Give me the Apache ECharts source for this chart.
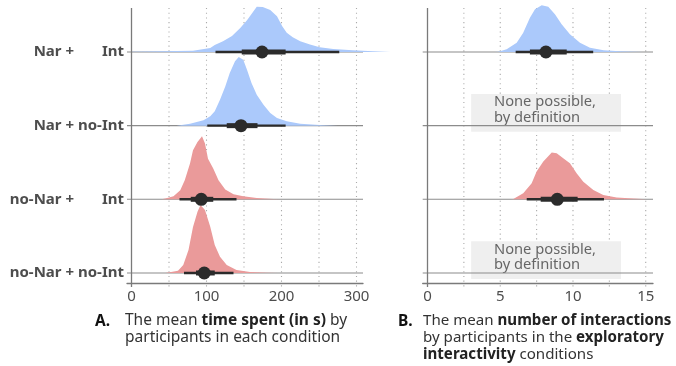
<!DOCTYPE html>
<html><head><meta charset="utf-8">
<script src="https://cdn.jsdelivr.net/npm/echarts@6/dist/echarts.min.js"></script>
<style>html,body{margin:0;padding:0;background:#fff}#c{width:676px;height:366px}</style>
</head><body><div id="c"></div>
<script>
// rows bottom -> top (y positions 1..4)
const rowNar = ['no-Nar +', 'no-Nar +', 'Nar +', 'Nar +'];
const rowInt = ['no-Int', 'Int', 'no-Int', 'Int'];
const rowColors = ['#ea9a9a', '#ea9a9a', '#abc9fb', '#abc9fb'];

const timeTicks = [0, 100, 200, 300];
const timeGrid = [50, 100, 150, 200, 250, 300];
const interTicks = [0, 5, 10, 15];
const interGrid = [2.5, 5, 7.5, 10, 12.5, 15];

// density curves: [value, height in row units]
const timeDensNarInt = [[0,0.004],[38,0.01],[82,0.018],[105,0.054],[111,0.095],[122,0.145],[134,0.217],[145,0.326],[154,0.43],[161,0.53],[167,0.615],[175,0.61],[185,0.57],[194,0.485],[201,0.35],[207,0.26],[215,0.2],[225,0.145],[238,0.1],[251,0.064],[269,0.04],[295,0.023],[322,0.01],[345,0]];
const timeDensNarNoInt = [[60,0],[78,0.027],[96,0.072],[105,0.126],[111,0.194],[118,0.353],[125,0.533],[131,0.715],[138,0.873],[143,0.933],[149,0.896],[154,0.76],[160,0.58],[167,0.42],[176,0.285],[185,0.172],[194,0.105],[207,0.058],[225,0.027],[251,0.01],[275,0]];
const timeDensNoNarInt = [[40,0],[45,0.01],[56,0.04],[65,0.122],[71,0.258],[78,0.485],[82,0.665],[88,0.778],[94,0.855],[98,0.756],[102,0.552],[109,0.417],[116,0.258],[125,0.132],[136,0.068],[149,0.04],[167,0.018],[189,0.004],[200,0]];
const timeDensNoNarNoInt = [[45,0],[51,0.01],[62,0.031],[69,0.109],[76,0.312],[82,0.624],[88,0.832],[92,0.923],[98,0.855],[105,0.628],[111,0.38],[118,0.221],[127,0.109],[140,0.04],[158,0.014],[180,0.004],[195,0]];
const interDensNarInt = [[4.6,0],[4.87,0.004],[5.44,0.037],[6.13,0.126],[6.58,0.262],[7.04,0.466],[7.39,0.58],[7.85,0.634],[8.3,0.615],[8.76,0.512],[9.22,0.376],[9.79,0.24],[10.48,0.126],[11.17,0.058],[12.1,0.023],[13.2,0.01],[14.8,0]];
const interDensNoNarInt = [[5.7,0],[5.9,0.004],[6.58,0.081],[7.16,0.217],[7.5,0.376],[7.96,0.512],[8.54,0.634],[8.88,0.624],[9.33,0.557],[9.79,0.489],[10.25,0.353],[10.71,0.24],[11.4,0.126],[12.08,0.058],[13.0,0.023],[14.14,0.01],[15.07,0]];

// intervals: [row, lo95, lo66, mean, hi66, hi95]
const timeIntervals = [[4,112,147,174,205.5,277],[3,101,127,146,168,205.5],[2,64,79,93,109,140],[1,70,86,97,111,136]];
const interIntervals = [[4,6.06,7.04,8.14,9.57,11.39],[2,6.82,7.78,8.92,10.32,12.13]];
// "None possible" rows in panel B: [row, xFrom, xTo]
const noneRows = [[3,3.0,13.3],[1,3.0,13.3]];
const noneText = 'None possible,\nby definition';

const FONT = '"Noto Sans", sans-serif';
const rows = [1,2,3,4];

function densitySeries(ax, row, pts, color) {
  return {
    type:'custom', xAxisIndex:ax, yAxisIndex:ax, clip:false, silent:true, z:4,
    data:[[pts[0][0], row]],
    renderItem:(params, api) => {
      const points = pts.map(p => api.coord([p[0], row + p[1]]));
      points.unshift(api.coord([pts[0][0], row]));
      points.push(api.coord([pts[pts.length-1][0], row]));
      return {type:'polygon', shape:{points}, style:{fill:color}};
    }
  };
}
function intervalSeries(ax, data) {
  return {
    type:'custom', xAxisIndex:ax, yAxisIndex:ax, clip:false, silent:true, z:6,
    data:data, encode:{x:[1,5], y:0},
    renderItem:(params, api) => {
      const r = api.value(0);
      const a = api.coord([api.value(1), r]), b = api.coord([api.value(5), r]);
      const c = api.coord([api.value(2), r]), d = api.coord([api.value(4), r]);
      const m = api.coord([api.value(3), r]);
      return {type:'group', children:[
        {type:'line', shape:{x1:a[0],y1:a[1],x2:b[0],y2:b[1]}, style:{stroke:'#2b2b2b', lineWidth:2.4}},
        {type:'line', shape:{x1:c[0],y1:c[1],x2:d[0],y2:d[1]}, style:{stroke:'#2b2b2b', lineWidth:5}},
        {type:'circle', shape:{cx:m[0],cy:m[1],r:6.5}, style:{fill:'#2b2b2b'}}
      ]};
    }
  };
}
function gridLineSeries(ax, vals) {
  return {
    type:'custom', xAxisIndex:ax, yAxisIndex:ax, silent:true, z:1, clip:false,
    data: vals.map(v => [v, 1]),
    renderItem:(params, api) => {
      const cs = params.coordSys;
      const x = api.coord([api.value(0), 1])[0];
      return {type:'line', shape:{x1:x,y1:cs.y,x2:x,y2:cs.y+cs.height+4}, style:{stroke:'#aaaaaa', lineWidth:1.1, lineDash:[1.1,3.6]}};
    }
  };
}
function baseLineSeries(ax) {
  return {
    type:'custom', xAxisIndex:ax, yAxisIndex:ax, silent:true, z:3, clip:false,
    data: rows.map(r => [0, r]),
    renderItem:(params, api) => {
      const cs = params.coordSys;
      const y = api.coord([0, api.value(1)])[1];
      return {type:'line', shape:{x1:cs.x,y1:y,x2:cs.x+cs.width,y2:y}, style:{stroke:'#8c8c8c', lineWidth:1.1}};
    }
  };
}
function vAxisSeries(ax) {
  return {
    type:'custom', xAxisIndex:ax, yAxisIndex:ax, silent:true, z:5, clip:false,
    data: [[0, 1]],
    renderItem:(params, api) => {
      const cs = params.coordSys;
      const x = api.coord([api.value(0), 1])[0];
      return {type:'line', shape:{x1:x,y1:cs.y,x2:x,y2:cs.y+cs.height+4}, style:{stroke:'#7a7a7a', lineWidth:1.3}};
    }
  };
}
function noneSeries(ax) {
  return {
    type:'custom', xAxisIndex:ax, yAxisIndex:ax, silent:true, z:2, clip:false,
    data: noneRows, encode:{x:[1,2], y:0},
    renderItem:(params, api) => {
      const r = api.value(0);
      const p1 = api.coord([api.value(1), r + 0.43]);
      const p2 = api.coord([api.value(2), r - 0.083]);
      const t = api.coord([4.57, r + 0.215]);
      return {type:'group', children:[
        {type:'rect', shape:{x:p1[0], y:p1[1], width:p2[0]-p1[0], height:p2[1]-p1[1]}, style:{fill:'#efefef'}},
        {type:'text', z2:10, style:{text:noneText, x:t[0], y:t[1], fill:'#666666', fontSize:14.7, fontFamily:FONT, lineHeight:15.5, verticalAlign:'middle', align:'left'}}
      ]};
    }
  };
}

const chart = echarts.init(document.getElementById('c'), null, {renderer:'canvas'});
const xLabel = {color:'#4d4d4d', fontSize:15, fontFamily:FONT, margin:6};
const richA = (fs) => ({n:{fontFamily:FONT, fontSize:fs, fill:'#333', lineHeight:17}, b:{fontFamily:FONT, fontSize:fs, fontWeight:'bold', fill:'#222', lineHeight:17}});
const LFS = 15;
const option = {
  animation:false,
  grid:[
    {left:127, top:8, width:236, height:275},
    {left:422.7, top:8, width:230.3, height:275}
  ],
  xAxis:[
    {type:'value', gridIndex:0, min:-6, max:308.67,
     axisLine:{show:true, onZero:false, lineStyle:{color:'#7a7a7a', width:1.3}},
     axisTick:{show:false}, splitLine:{show:false},
     axisLabel:Object.assign({customValues:timeTicks, showMinLabel:true, showMaxLabel:true}, xLabel)},
    {type:'value', gridIndex:1, min:-0.33, max:15.5,
     axisLine:{show:true, onZero:false, lineStyle:{color:'#7a7a7a', width:1.3}},
     axisTick:{show:false}, splitLine:{show:false},
     axisLabel:Object.assign({customValues:interTicks, showMinLabel:true, showMaxLabel:true}, xLabel)}
  ],
  yAxis:[
    {type:'value', gridIndex:0, min:0.864, max:4.597,
     axisLine:{show:false, onZero:false}, axisTick:{show:false}, splitLine:{show:false},
     axisLabel:{customValues:rows, margin:3, fontFamily:FONT, fontSize:LFS, fontWeight:'bold', color:'#4d4d4d',
       formatter:(v) => { const i = Math.round(v) - 1; return '{a|' + rowNar[i] + '}{b|' + rowInt[i] + '}'; },
       rich:{a:{width:71, align:'right', fontFamily:FONT, fontSize:LFS, fontWeight:'bold', color:'#4d4d4d'},
             b:{width:50, align:'right', fontFamily:FONT, fontSize:LFS, fontWeight:'bold', color:'#4d4d4d'}}}},
    {type:'value', gridIndex:1, min:0.864, max:4.597,
     axisLine:{show:false, onZero:false}, axisTick:{show:false}, splitLine:{show:false}, axisLabel:{show:false}}
  ],
  series:[
    gridLineSeries(0, timeGrid), gridLineSeries(1, interGrid),
    noneSeries(1),
    baseLineSeries(0), baseLineSeries(1),
    densitySeries(0, 4, timeDensNarInt, rowColors[3]),
    densitySeries(0, 3, timeDensNarNoInt, rowColors[2]),
    densitySeries(0, 2, timeDensNoNarInt, rowColors[1]),
    densitySeries(0, 1, timeDensNoNarNoInt, rowColors[0]),
    densitySeries(1, 4, interDensNarInt, rowColors[3]),
    densitySeries(1, 2, interDensNoNarInt, rowColors[1]),
    vAxisSeries(0), vAxisSeries(1),
    intervalSeries(0, timeIntervals), intervalSeries(1, interIntervals)
  ],
  graphic:[
    {type:'text', left:95, top:313, style:{text:'A.', fontFamily:FONT, fontSize:15.5, fontWeight:'bold', fill:'#111', lineHeight:17}},
    {type:'text', left:125, top:313, style:{
      text:'{n|The mean }{b|time spent (in s)}{n| by}\n{n|participants in each condition}', rich:richA(15.5)}},
    {type:'text', left:398, top:313, style:{text:'B.', fontFamily:FONT, fontSize:15.5, fontWeight:'bold', fill:'#111', lineHeight:17}},
    {type:'text', left:423, top:313, style:{
      text:'{n|The mean }{b|number of interactions}\n{n|by participants in the }{b|exploratory}\n{b|interactivity}{n| conditions}', rich:richA(15.1)}}
  ]
};
chart.setOption(option);
</script>
</body></html>
